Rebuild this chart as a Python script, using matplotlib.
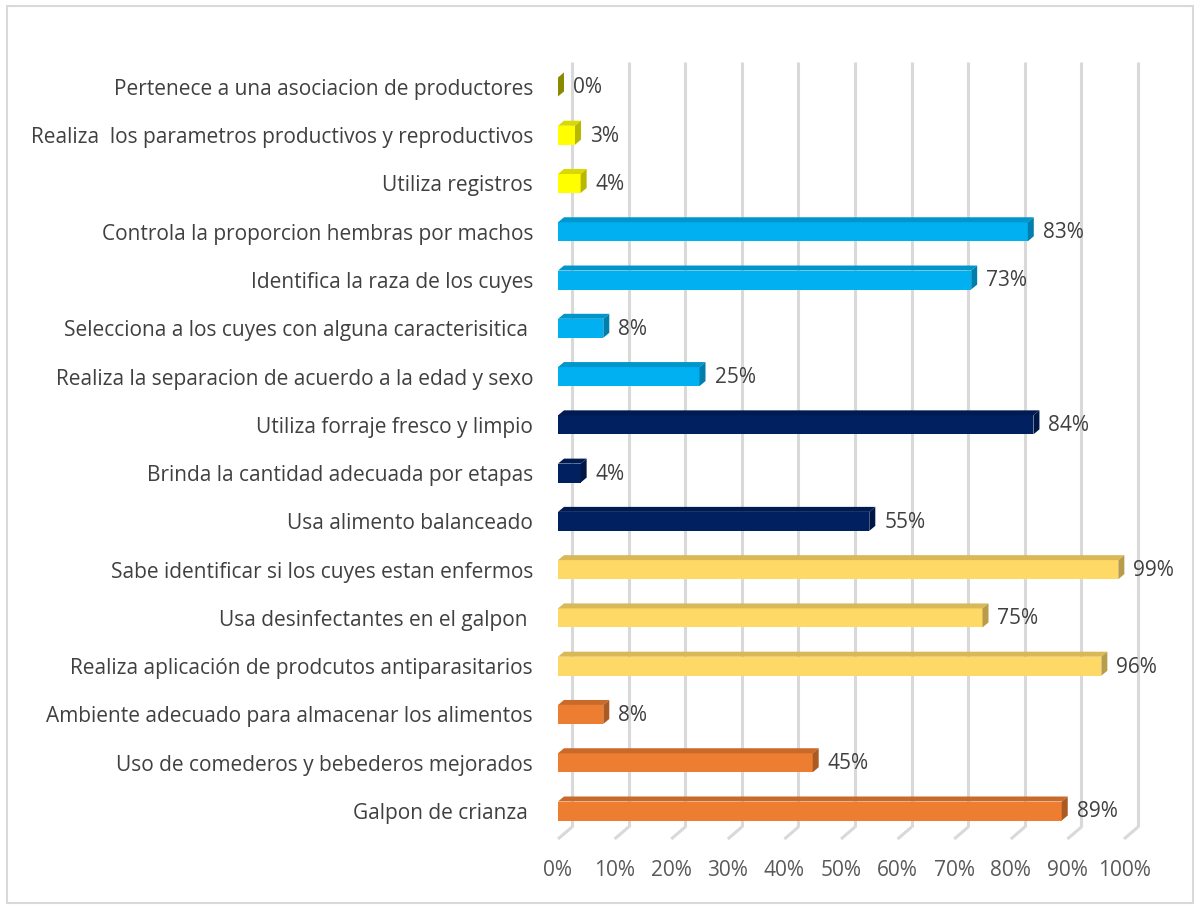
import numpy as np
import matplotlib
matplotlib.use("Agg")
import matplotlib.pyplot as plt
from matplotlib.patches import Polygon, Rectangle
from matplotlib.colors import to_rgb

# categories listed bottom to top
categories = [
    "Galpon de crianza ",
    "Uso de comederos y bebederos mejorados",
    "Ambiente adecuado para almacenar los alimentos",
    "Realiza aplicación de prodcutos antiparasitarios",
    "Usa desinfectantes en el galpon ",
    "Sabe identificar si los cuyes estan enfermos",
    "Usa alimento balanceado",
    "Brinda la cantidad adecuada por etapas",
    "Utiliza forraje fresco y limpio",
    "Realiza la separacion de acuerdo a la edad y sexo",
    "Selecciona a los cuyes con alguna caracterisitica ",
    "Identifica la raza de los cuyes",
    "Controla la proporcion hembras por machos",
    "Utiliza registros",
    "Realiza  los parametros productivos y reproductivos",
    "Pertenece a una asociacion de productores",
]
values = [89, 45, 8, 96, 75, 99, 55, 4, 84, 25, 8, 73, 83, 4, 3, 0]
groups = [0, 0, 0, 1, 1, 1, 2, 2, 2, 3, 3, 3, 3, 4, 4, 5]
group_colors = ["#ED7D31", "#FFD966", "#002060", "#00B0F0", "#FFFF00", "#BFBF00"]
xticks = list(range(0, 101, 10))

W, H = 1200, 909
fig = plt.figure(figsize=(W / 100, H / 100), dpi=100)
fig.patch.set_facecolor("white")

# plot box in pixels: front x-axis 0..100 and floor-front to top of walls
px_left, px_right = 558, 1124
px_top, px_floor = 62, 839
ax = fig.add_axes([px_left / W, 1 - px_floor / H,
                   (px_right - px_left) / W, (px_floor - px_top) / H])
ppx = (px_right - px_left) / 100.0          # pixels per percent
row = 48.27                                 # pixels per category
y0 = -(px_floor - 811) / row
y1 = y0 + (px_floor - px_top) / row
ax.set_xlim(0, 100)
ax.set_ylim(y0, y1)
for s in ax.spines.values():
    s.set_visible(False)

# depth offsets (wall/floor and bars)
gdx, gdy = 14 / ppx, 12 / row
bdx, bdy = 6 / ppx, 5 / row
bh = 19 / row

grid_c = "#D9D9D9"
floor_back = y0 + gdy
for v in xticks:
    ax.plot([v + gdx, v + gdx], [floor_back, y1], color=grid_c, lw=2.2,
            solid_capstyle="butt", zorder=1, clip_on=False)
    ax.plot([v, v + gdx], [y0, floor_back], color=grid_c, lw=2.2,
            solid_capstyle="butt", zorder=1, clip_on=False)


def shade(c, f):
    r, g, b = to_rgb(c)
    return (r * f, g * f, b * f)


for i, (v, g) in enumerate(zip(values, groups)):
    c = group_colors[g]
    lo, hi = i - bh / 2, i + bh / 2
    ax.add_patch(Rectangle((0, lo), v, bh, facecolor=c, edgecolor="none",
                           zorder=3, clip_on=False))
    ax.add_patch(Polygon([(0, hi), (v, hi), (v + bdx, hi + bdy), (bdx, hi + bdy)],
                         closed=True, facecolor=shade(c, 0.85), edgecolor="none",
                         zorder=3, clip_on=False))
    ax.add_patch(Polygon([(v, lo), (v + bdx, lo + bdy), (v + bdx, hi + bdy), (v, hi)],
                         closed=True, facecolor=shade(c, 0.72), edgecolor="none",
                         zorder=3, clip_on=False))
    ax.text(v + bdx + 9 / ppx, i - 0.02, f"{v}%", ha="left", va="center",
            fontsize=15, color="#404040", family="Open Sans", zorder=4)

ax.set_yticks(range(len(categories)))
ax.set_yticklabels(categories, fontsize=15, color="#404040", family="Open Sans")
ax.tick_params(axis="y", length=0, pad=18)
ax.set_xticks(xticks)
ax.set_xticklabels([f"{v}%" for v in xticks], fontsize=15, color="#595959",
                   family="Open Sans")
ax.tick_params(axis="x", length=0, pad=15)
ax.set_facecolor("none")

# chart area border
fig.add_artist(Rectangle((7 / W, 6 / H), (W - 14) / W, (H - 12) / H,
                         transform=fig.transFigure, fill=False,
                         edgecolor="#D9D9D9", lw=1.5))

fig.savefig("out.png", dpi=100)
